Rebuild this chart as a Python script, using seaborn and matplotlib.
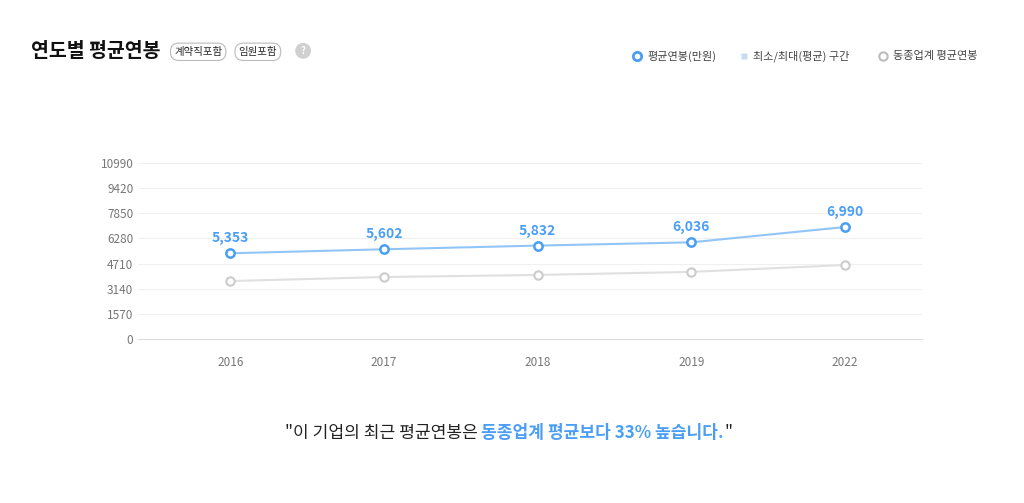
import matplotlib
matplotlib.use('Agg')
import matplotlib.pyplot as plt
from matplotlib.lines import Line2D
import seaborn as sns
import pandas as pd

sns.set_style('white')
plt.rcParams['font.family'] = ['Noto Sans CJK KR', 'DejaVu Sans']

years = ['2016', '2017', '2018', '2019', '2022']
avg_salary = [5353, 5602, 5832, 6036, 6990]
industry_avg = [3620, 3870, 4000, 4190, 4620]
yticks = [0, 1570, 3140, 4710, 6280, 7850, 9420, 10990]

blue = '#4a9ff5'
line_blue = '#92c5f7'
gray = '#cccccc'

df = pd.DataFrame({'year': years, 'avg': avg_salary, 'ind': industry_avg})
df['x'] = range(len(years))

fig = plt.figure(figsize=(10.24, 5.03), dpi=100)
ax = fig.add_axes([0.135, 0.326, 0.765, 0.35])

sns.lineplot(data=df, x='x', y='ind', ax=ax, color='#e0e0e0', lw=1.5,
             marker='o', markersize=6, markerfacecolor='white',
             markeredgecolor=gray, markeredgewidth=1.5)
sns.lineplot(data=df, x='x', y='avg', ax=ax, color=line_blue, lw=1.5,
             marker='o', markersize=6, markerfacecolor='white',
             markeredgecolor=blue, markeredgewidth=1.8)
for x, v in zip(df['x'], avg_salary):
    ax.text(x, v + 500, f'{v:,}', ha='center', va='bottom', color=blue,
            fontsize=10, fontweight='bold')

ax.set_xlim(-0.6, 4.5)
ax.set_ylim(0, 10990)
ax.set_yticks(yticks)
ax.set_yticklabels([str(t) for t in yticks])
ax.set_xticks(df['x'])
ax.set_xticklabels(years)
ax.tick_params(axis='both', length=0, labelsize=8.5, colors='#777777')
ax.tick_params(axis='x', pad=12)
ax.grid(axis='y', color='#f0f0f0', lw=0.8)
for s in ['top', 'right', 'left']:
    ax.spines[s].set_visible(False)
ax.spines['bottom'].set_color('#dddddd')
ax.set_xlabel('')
ax.set_ylabel('')

# header
fig.text(0.03, 0.897, '연도별 평균연봉', fontsize=14, fontweight='bold', color='#111111', va='center')
box = dict(boxstyle='round,pad=0.35,rounding_size=0.8', fc='white', ec='#bbbbbb', lw=0.8)
fig.text(0.170, 0.897, '계약직포함', fontsize=7.5, va='center', bbox=box)
fig.text(0.233, 0.897, '임원포함', fontsize=7.5, va='center', bbox=box)
fig.text(0.296, 0.899, '?', fontsize=7, color='white', va='center', ha='center', fontweight='bold',
         bbox=dict(boxstyle='circle,pad=0.3', fc='#d0d0d0', ec='none'))

# legend
ly = 0.888
fig.add_artist(Line2D([0.622], [ly], transform=fig.transFigure, marker='o', ms=6,
                      mfc='white', mec=blue, mew=2, ls='none'))
fig.text(0.632, ly, '평균연봉(만원)', fontsize=8, color='#444444', va='center')
fig.add_artist(Line2D([0.727], [ly], transform=fig.transFigure, marker='s', ms=5,
                      mfc='#c5dcf5', mec='none', ls='none'))
fig.text(0.735, ly, '최소/최대(평균) 구간', fontsize=8, color='#444444', va='center')
fig.add_artist(Line2D([0.862], [ly], transform=fig.transFigure, marker='o', ms=6,
                      mfc='white', mec='#bbbbbb', mew=1.5, ls='none'))
fig.text(0.872, ly, '동종업계 평균연봉', fontsize=8, color='#444444', va='center')

# bottom sentence, pieces placed one after another
fig.canvas.draw()
r = fig.canvas.get_renderer()
parts = [('"이 기업의 최근 평균연봉은 ', '#222222', 'normal'),
         ('동종업계 평균보다 33% 높습니다.', blue, 'bold'),
         ('"', '#222222', 'normal')]
xpos = 0.278
for s, c, w in parts:
    t = fig.text(xpos, 0.14, s, fontsize=12.3, color=c, fontweight=w, va='center')
    bb = t.get_window_extent(renderer=r)
    xpos += bb.width / fig.bbox.width

fig.savefig('out.png', dpi=100, facecolor='white')
